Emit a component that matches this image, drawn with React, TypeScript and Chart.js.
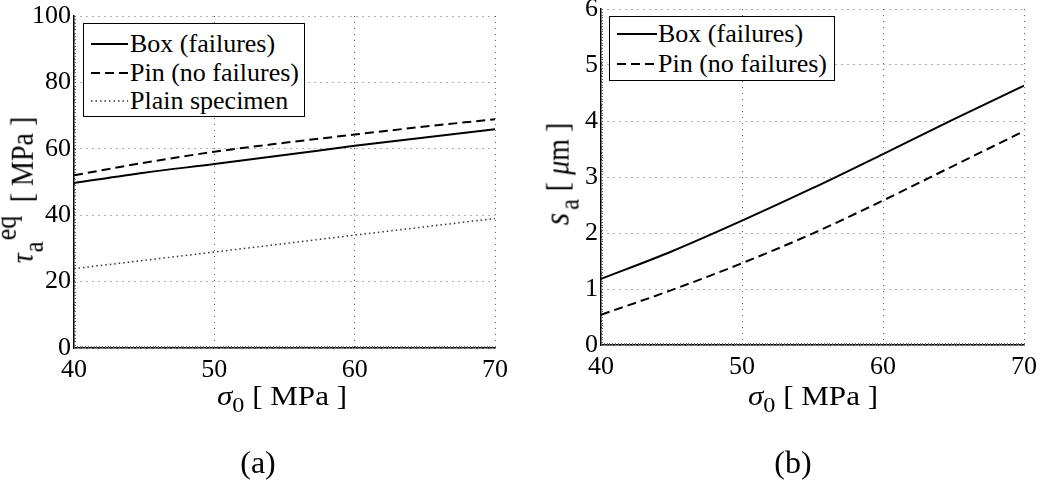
import React, { useEffect, useRef } from "react";
import { Chart, registerables } from "chart.js";

Chart.register(...registerables);

// ---------- data ----------
const SIGMA_A = [40, 45, 50, 55, 60, 65, 70];
const TAU_BOX = [49.7, 52.8, 55.4, 58.1, 60.9, 63.4, 65.9];
const TAU_PIN = [52.0, 55.8, 59.1, 61.8, 64.3, 66.7, 68.9];
const SIGMA_PLAIN = [40, 50, 60, 70];
const TAU_PLAIN = [23.9, 28.9, 34.0, 39.0];

const SIGMA_B = [40, 45, 50, 55, 60, 65, 70];
const SA_BOX = [1.18, 1.67, 2.22, 2.8, 3.41, 4.03, 4.63];
const SA_PIN = [0.54, 0.98, 1.46, 1.99, 2.58, 3.2, 3.82];

const X_TICKS = [40, 50, 60, 70];
const Y_TICKS_A = [0, 20, 40, 60, 80, 100];
const Y_TICKS_B = [0, 1, 2, 3, 4, 5, 6];

const LEGEND_A = ["Box (failures)", "Pin (no failures)", "Plain specimen"];
const LEGEND_B = ["Box (failures)", "Pin (no failures)"];

// ---------- styles ----------
const SERIF = "'Liberation Serif', 'Times New Roman', Times, serif";
const GRID = "rgba(0,0,0,0.62)";
const DASH = [9, 5];
const DOT = [1.5, 3];

const minorTicksPlugin = {
  id: "minorTicks",
  beforeDatasetsDraw(chart: any, _args: any, opts: any) {
    const { ctx, chartArea, scales } = chart;
    const xs = scales.x;
    const ys = scales.y;
    ctx.save();
    ctx.strokeStyle = opts.color || "#555";
    ctx.lineWidth = 1;
    ctx.beginPath();
    const nx = Math.round((xs.max - xs.min) / opts.xStep);
    for (let i = 0; i <= nx; i++) {
      const v = xs.min + i * opts.xStep;
      const px = Math.round(xs.getPixelForValue(v)) + 0.5;
      ctx.moveTo(px, chartArea.bottom);
      ctx.lineTo(px, chartArea.bottom - opts.len);
    }
    const ny = Math.round((ys.max - ys.min) / opts.yStep);
    for (let i = 0; i <= ny; i++) {
      const v = ys.min + i * opts.yStep;
      const py = Math.round(ys.getPixelForValue(v)) + 0.5;
      ctx.moveTo(chartArea.left, py);
      ctx.lineTo(chartArea.left + opts.len, py);
    }
    ctx.stroke();
    ctx.restore();
  },
};

function pts(xs: number[], ys: number[]) {
  return xs.map((x, i) => ({ x, y: ys[i] }));
}

function makeConfig(p: any) {
  return {
    type: "line",
    data: { datasets: p.datasets },
    plugins: [minorTicksPlugin],
    options: {
      animation: false,
      responsive: false,
      devicePixelRatio: 1,
      events: [],
      layout: { padding: { left: 0, top: 20, right: p.padRight, bottom: 0 } },
      plugins: {
        legend: { display: false },
        tooltip: { enabled: false },
        minorTicks: { xStep: p.xStep, yStep: p.yStep, len: 2, color: "#666" },
      },
      elements: { point: { radius: 0 }, line: { tension: 0 } },
      scales: {
        x: {
          type: "linear",
          min: 40,
          max: 70,
          afterBuildTicks: (s: any) => {
            s.ticks = X_TICKS.map((v) => ({ value: v }));
          },
          afterFit: (s: any) => {
            s.height = p.xHeight;
          },
          ticks: {
            font: { family: SERIF, size: 26 },
            color: "#000",
            padding: 7,
            maxRotation: 0,
            autoSkip: false,
          },
          grid: { color: GRID, lineWidth: 1, drawTicks: false },
          border: { display: true, color: "#000", width: 1.5, dash: [1, 5] },
        },
        y: {
          type: "linear",
          min: p.yMin,
          max: p.yMax,
          afterBuildTicks: (s: any) => {
            s.ticks = p.yTicks.map((v: number) => ({ value: v }));
          },
          afterFit: (s: any) => {
            s.width = p.yWidth;
          },
          ticks: {
            font: { family: SERIF, size: 26 },
            color: "#000",
            padding: 3,
            autoSkip: false,
          },
          grid: { color: GRID, lineWidth: 1, drawTicks: false },
          border: { display: true, color: "#000", width: 1.5, dash: [1, 5] },
        },
      },
    },
  };
}

const solid = { borderColor: "#000", borderWidth: 2, borderDash: [], fill: false, pointRadius: 0, cubicInterpolationMode: "monotone" };
const dashed = { borderColor: "#000", borderWidth: 2, borderDash: DASH, fill: false, pointRadius: 0, cubicInterpolationMode: "monotone" };
const dotted = { borderColor: "#333", borderWidth: 1.5, borderDash: DOT, fill: false, pointRadius: 0 };

const CONFIG_A = () =>
  makeConfig({
    datasets: [
      { label: LEGEND_A[0], data: pts(SIGMA_A, TAU_BOX), ...solid },
      { label: LEGEND_A[1], data: pts(SIGMA_A, TAU_PIN), ...dashed },
      { label: LEGEND_A[2], data: pts(SIGMA_PLAIN, TAU_PLAIN), ...dotted },
    ],
    yMin: 0,
    yMax: 100,
    yTicks: Y_TICKS_A,
    yWidth: 74,
    xHeight: 48,
    padRight: 25,
    xStep: 0.2,
    yStep: 1,
  });

const CONFIG_B = () =>
  makeConfig({
    datasets: [
      { label: LEGEND_B[0], data: pts(SIGMA_B, SA_BOX), ...solid },
      { label: LEGEND_B[1], data: pts(SIGMA_B, SA_PIN), ...dashed },
    ],
    yMin: 0,
    yMax: 6,
    yTicks: Y_TICKS_B,
    yWidth: 81,
    xHeight: 44,
    padRight: 18,
    xStep: 0.2,
    yStep: 0.05,
  });

function ChartCanvas(props: { make: () => any; left: number; top: number; width: number; height: number }) {
  const ref = useRef<HTMLCanvasElement>(null);
  useEffect(() => {
    const chart = new Chart(ref.current as HTMLCanvasElement, props.make());
    return () => chart.destroy();
  }, []);
  return (
    <canvas
      ref={ref}
      width={props.width}
      height={props.height}
      style={{ position: "absolute", left: props.left, top: props.top, width: props.width, height: props.height }}
    />
  );
}

function LineSample({ dash, width, color, lw }: { dash: number[]; width: number; color: string; lw: number }) {
  return (
    <svg width={width} height={6} style={{ display: "block" }}>
      <line x1={0} y1={3} x2={width} y2={3} stroke={color} strokeWidth={lw} strokeDasharray={dash.length ? dash.join(",") : undefined} />
    </svg>
  );
}

function Legend(props: {
  left: number;
  top: number;
  width: number;
  height: number;
  rows: number[];
  sampleX: number;
  sampleW: number;
  textX: number;
  items: { label: string; dash: number[]; color: string; lw: number }[];
}) {
  return (
    <div
      style={{
        position: "absolute",
        left: props.left,
        top: props.top,
        width: props.width,
        height: props.height,
        border: "1.5px solid #000",
        boxSizing: "border-box",
        background: "#fff",
      }}
    >
      {props.items.map((it, i) => (
        <React.Fragment key={i}>
          <div style={{ position: "absolute", left: props.sampleX, top: props.rows[i] - 3 }}>
            <LineSample dash={it.dash} width={props.sampleW} color={it.color} lw={it.lw} />
          </div>
          <div
            style={{
              position: "absolute",
              left: props.textX,
              top: props.rows[i],
              transform: "translateY(-50%)",
              fontFamily: SERIF,
              fontSize: 26,
              lineHeight: "30px",
              whiteSpace: "nowrap",
              color: "#000",
            }}
          >
            {it.label}
          </div>
        </React.Fragment>
      ))}
    </div>
  );
}

const labelBase: React.CSSProperties = {
  position: "absolute",
  fontFamily: SERIF,
  fontSize: 26,
  whiteSpace: "nowrap",
  color: "#000",
  lineHeight: "30px",
};

const sub = (t: string) => (
  <span style={{ fontSize: "0.78em", position: "relative", top: "0.32em" }}>{t}</span>
);

function XTitle({ cx }: { cx: number }) {
  return (
    <div style={{ ...labelBase, fontSize: 27, left: cx, top: 397, transform: "translate(-50%,-50%) scale(1.15,1)" }}>
      <i>σ</i>
      {sub("0")} [ MPa ]
    </div>
  );
}

export default function App() {
  return (
    <div style={{ position: "fixed", left: 0, top: 0, width: 1044, height: 484, background: "#fff", overflow: "hidden" }}>
      <ChartCanvas make={CONFIG_A} left={0} top={-4} width={520} height={400} />
      <ChartCanvas make={CONFIG_B} left={520} top={-11} width={524} height={400} />

      <Legend
        left={83}
        top={23}
        width={222}
        height={94}
        rows={[20, 49, 77]}
        sampleX={7}
        sampleW={37}
        textX={46}
        items={[
          { label: LEGEND_A[0], dash: [], color: "#000", lw: 2 },
          { label: LEGEND_A[1], dash: DASH, color: "#000", lw: 2 },
          { label: LEGEND_A[2], dash: DOT, color: "#333", lw: 1.5 },
        ]}
      />
      <Legend
        left={609}
        top={16}
        width={226}
        height={65}
        rows={[17, 47]}
        sampleX={7}
        sampleW={40}
        textX={48}
        items={[
          { label: LEGEND_B[0], dash: [], color: "#000", lw: 2 },
          { label: LEGEND_B[1], dash: DASH, color: "#000", lw: 2 },
        ]}
      />

      {/* x axis titles */}
      <XTitle cx={282} />
      <XTitle cx={813} />

      {/* y axis titles */}
      <div style={{ ...labelBase, fontSize: 28, left: 22, top: 190, transform: "translate(-50%,-50%) rotate(-90deg) scale(1,1.15)" }}>
        <i>τ</i>
        <span style={{ display: "inline-block", position: "relative", width: 44, height: 0 }}>
          <span style={{ position: "absolute", left: 13, bottom: 9, fontSize: 26, lineHeight: "26px" }}>eq</span>
          <span style={{ position: "absolute", left: 1, bottom: -13, fontSize: 24, lineHeight: "24px" }}>a</span>
        </span>
        <span style={{ marginLeft: 7 }}>[ MPa ]</span>
      </div>
      <div style={{ ...labelBase, fontSize: 28, left: 558, top: 174, transform: "translate(-50%,-50%) rotate(-90deg) scale(1,1.15)" }}>
        <i style={{ fontSize: 32 }}>s</i>
        <span style={{ fontSize: 24, position: "relative", top: 8, marginLeft: 3, marginRight: 8 }}>a</span>[ <i>μ</i>m ]
      </div>

      {/* captions */}
      <div style={{ ...labelBase, fontSize: 32, lineHeight: "36px", left: 258, top: 462, transform: "translate(-50%,-50%)" }}>
        (a)
      </div>
      <div style={{ ...labelBase, fontSize: 32, lineHeight: "36px", left: 793, top: 462, transform: "translate(-50%,-50%)" }}>
        (b)
      </div>
    </div>
  );
}
